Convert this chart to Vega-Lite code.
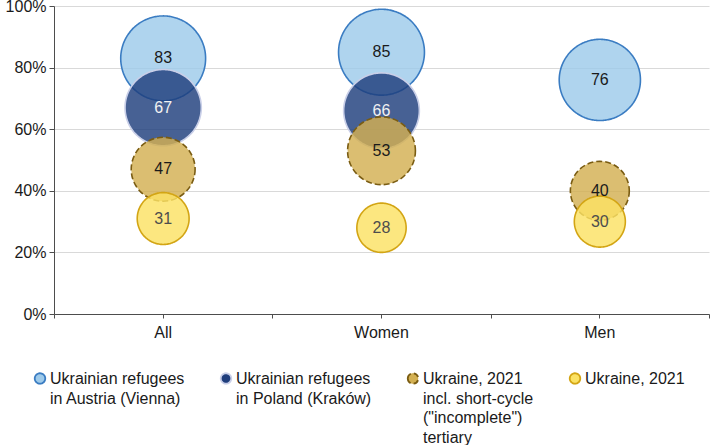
{
  "$schema": "https://vega.github.io/schema/vega-lite/v6.json",
  "width": 655,
  "height": 308,
  "autosize": {"type": "none"},
  "padding": {"left": 54, "top": 6, "right": 1, "bottom": 131},
  "background": "white",
  "config": {
    "font": "Liberation Sans",
    "view": {"stroke": null},
    "axis": {"labelFont": "Liberation Sans", "labelFontSize": 16, "labelColor": "#1a1a1a", "domainColor": "#4d4d4d", "tickColor": "#4d4d4d", "title": null},
    "style": {"guide-label": {"lineHeight": 19.5}}
  },
  "data": {"values": [
    {"group": "All", "series": "Ukrainian refugees in Austria (Vienna)", "value": 83},
    {"group": "All", "series": "Ukrainian refugees in Poland (Kraków)", "value": 67},
    {"group": "All", "series": "Ukraine, 2021 incl. short-cycle (\"incomplete\") tertiary", "value": 47},
    {"group": "All", "series": "Ukraine, 2021", "value": 31},
    {"group": "Women", "series": "Ukrainian refugees in Austria (Vienna)", "value": 85},
    {"group": "Women", "series": "Ukrainian refugees in Poland (Kraków)", "value": 66},
    {"group": "Women", "series": "Ukraine, 2021 incl. short-cycle (\"incomplete\") tertiary", "value": 53},
    {"group": "Women", "series": "Ukraine, 2021", "value": 28},
    {"group": "Men", "series": "Ukrainian refugees in Austria (Vienna)", "value": 76},
    {"group": "Men", "series": "Ukraine, 2021 incl. short-cycle (\"incomplete\") tertiary", "value": 40},
    {"group": "Men", "series": "Ukraine, 2021", "value": 30}
  ]},
  "resolve": {"axis": {"x": "independent"}},
  "layer": [
    {
      "mark": {"type": "point", "filled": true, "shape": "circle", "fillOpacity": 0.82, "strokeOpacity": 1, "strokeWidth": 1.6},
      "encoding": {
        "x": {"field": "group", "type": "nominal", "sort": ["All", "Women", "Men"],
              "scale": {"type": "band", "paddingInner": 0, "paddingOuter": 0},
              "axis": {"orient": "bottom", "labelAngle": 0, "tickSize": 4, "labelPadding": 6, "grid": false, "domain": true}},
        "y": {"field": "value", "type": "quantitative", "scale": {"domain": [0, 100]},
              "axis": {"values": [0, 20, 40, 60, 80, 100], "labelExpr": "datum.value + '%'", "grid": true, "gridColor": "#d9d9d9", "tickSize": 5, "labelPadding": 3}},
        "size": {"field": "value", "type": "quantitative", "scale": {"type": "linear", "domain": [0, 100], "range": [0, 8680], "zero": true}, "legend": null},
        "fill": {"field": "series", "type": "nominal", "sort": null,
                 "scale": {"domain": ["Ukrainian refugees in Austria (Vienna)", "Ukrainian refugees in Poland (Kraków)", "Ukraine, 2021 incl. short-cycle (\"incomplete\") tertiary", "Ukraine, 2021"],
                           "range": ["#9ecaea", "#1f3e7c", "#d3b052", "#fbe264"]},
                 "legend": {"title": null, "orient": "none", "legendX": -22, "legendY": 357, "direction": "horizontal", "columns": 4, "columnPadding": 32,
                            "symbolSize": 110, "symbolType": "M -1 1.38 A 1 1 0 1 1 1 1.38 A 1 1 0 1 1 -1 1.38 Z", "symbolStrokeWidth": 1.8, "symbolOpacity": 1,
                            "labelFontSize": 16, "labelFont": "Liberation Sans", "labelColor": "#1a1a1a", "labelBaseline": "top", "labelOffset": 2, "labelLimit": 300,
                            "labelExpr": "datum.label == 'Ukrainian refugees in Austria (Vienna)' ? ['Ukrainian refugees', 'in Austria (Vienna)', '', ''] : datum.label == 'Ukrainian refugees in Poland (Kraków)' ? ['Ukrainian refugees', 'in Poland (Kraków)', '', ''] : datum.label == 'Ukraine, 2021' ? ['Ukraine, 2021', '', '', ''] : ['Ukraine, 2021', 'incl. short-cycle', '(\"incomplete\")', 'tertiary']"}},
        "stroke": {"field": "series", "type": "nominal", "sort": null,
                   "scale": {"domain": ["Ukrainian refugees in Austria (Vienna)", "Ukrainian refugees in Poland (Kraków)", "Ukraine, 2021 incl. short-cycle (\"incomplete\") tertiary", "Ukraine, 2021"],
                             "range": ["#3a7cc2", "#c9cfe8", "#7a5c12", "#d3a514"]}},
        "strokeDash": {"field": "series", "type": "nominal", "sort": null,
                       "scale": {"domain": ["Ukrainian refugees in Austria (Vienna)", "Ukrainian refugees in Poland (Kraków)", "Ukraine, 2021 incl. short-cycle (\"incomplete\") tertiary", "Ukraine, 2021"],
                                 "range": [[1, 0], [1, 0], [6, 3], [1, 0]]}}
      }
    },
    {
      "mark": {"type": "text", "fontSize": 16, "font": "Liberation Sans", "baseline": "middle"},
      "encoding": {
        "x": {"field": "group", "type": "nominal", "sort": ["All", "Women", "Men"],
              "axis": {"orient": "bottom", "tickBand": "extent", "labels": false, "domain": false, "tickSize": 4, "grid": false}},
        "y": {"field": "value", "type": "quantitative"},
        "text": {"field": "value", "type": "quantitative"},
        "color": {"field": "series", "type": "nominal", "sort": null, "legend": null,
                  "scale": {"domain": ["Ukrainian refugees in Austria (Vienna)", "Ukrainian refugees in Poland (Kraków)", "Ukraine, 2021 incl. short-cycle (\"incomplete\") tertiary", "Ukraine, 2021"],
                            "range": ["#1a1a1a", "#f2f2f2", "#1a1a1a", "#4d4d4d"]}}
      }
    }
  ]
}
